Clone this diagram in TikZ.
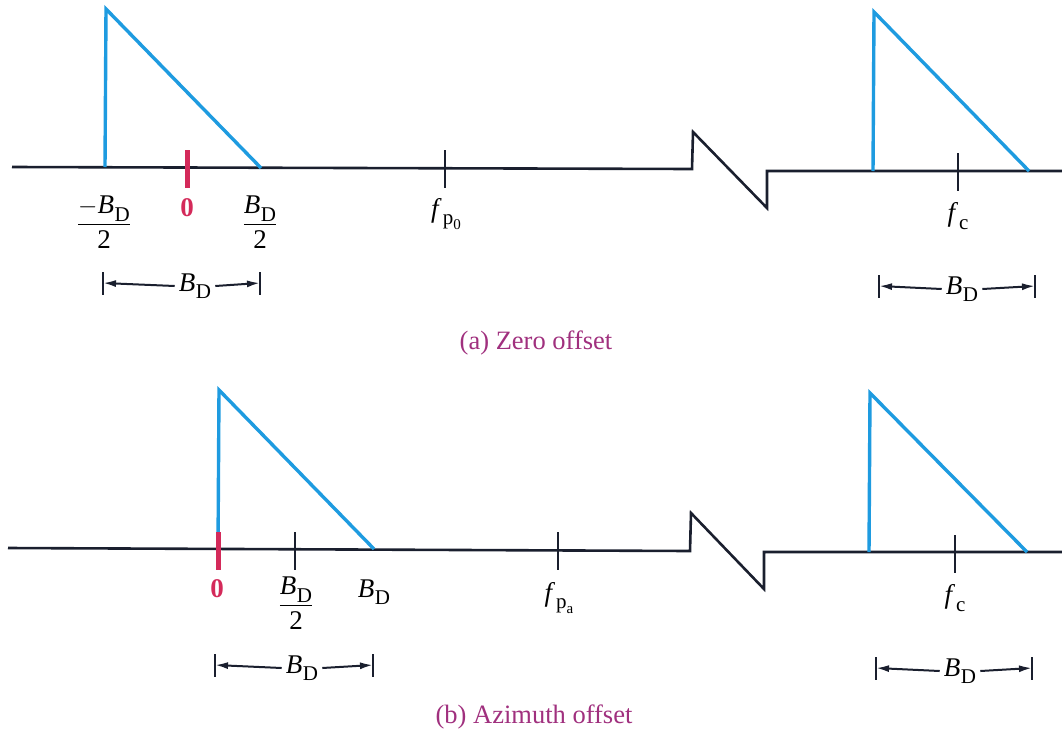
\documentclass[tikz,border=0pt]{standalone}
\usepackage{amsmath}
\usepackage{fontspec}
\setmainfont{Liberation Serif}
\usetikzlibrary{arrows.meta}
\definecolor{specblue}{HTML}{1E9BE0}
\definecolor{zeroRed}{HTML}{D42A5A}
\definecolor{capPurple}{HTML}{A0307E}
\definecolor{axisBlack}{HTML}{1A1F2E}
\newcommand{\mysub}[1]{\raisebox{-0.28em}{\fontsize{21}{24}\selectfont\upshape #1}}
\newcommand{\mysubsub}[1]{\raisebox{-0.22em}{\fontsize{15}{18}\selectfont\upshape #1}}
\newcommand{\BD}{\textit{B}\kern0.5pt\mysub{D}}
\newcommand{\halfBD}[1]{$\dfrac{\mbox{#1\BD}}{\mbox{2}}$}
\begin{document}
\begin{tikzpicture}[x=1pt,y=-1pt,
  axis/.style={draw=axisBlack,line width=2.6pt,line join=miter},
  spec/.style={draw=specblue,line width=3.4pt,line join=miter},
  tickmark/.style={draw=axisBlack,line width=2.2pt},
  zerotick/.style={draw=zeroRed,line width=5pt},
  lbl/.style={font=\fontsize{27}{30}\selectfont,inner sep=1pt},
  zerolbl/.style={font=\fontsize{27}{30}\selectfont\bfseries,text=zeroRed,inner sep=1pt},
  caption/.style={font=\fontsize{26.5}{30}\selectfont,text=capPurple},
  dimbar/.style={draw=axisBlack,line width=2.2pt},
  dimarrow/.style={draw=axisBlack,line width=2pt,-{Latex[length=13pt,width=7pt]}}]
\useasboundingbox (0,0) rectangle (1062,734);

% ---------------- (a) Zero offset ----------------
\coordinate (a0) at (12,167);
\coordinate (a1) at (692,169);
\coordinate (a2) at (693,132);
\coordinate (a3) at (767,208);
\coordinate (a4) at (767,171);
\coordinate (a5) at (1062,171);
\draw[axis] (a0) -- (a1) -- (a2) -- (a3) -- (a4) -- (a5);

\coordinate (t1b) at (105,167);
\coordinate (t1t) at (106,9);
\coordinate (t1r) at (261,168);
\draw[spec] (t1b) -- (t1t) -- (t1r);

\coordinate (t2b) at (873,171);
\coordinate (t2t) at (874,12);
\coordinate (t2r) at (1029,171);
\draw[spec] (t2b) -- (t2t) -- (t2r);

\draw[zerotick] (187,150) -- (187,188);
\draw[tickmark] (445,150) -- (445,188);
\draw[tickmark] (958,153) -- (958,191);

\node[lbl] (amBD) at (104,222) {\halfBD{$-$}};
\node[zerolbl] (azero) at (187,208) {0};
\node[lbl] (apBD) at (260,222) {\halfBD{}};
\node[lbl] (afp) at (446,214) {\textit{f}\kern1pt\mysub{p\mysubsub{0}}};
\node[lbl] (afc) at (958,216) {\textit{f}\kern1pt\mysub{c}};

\coordinate (ad1l) at (103,283);
\coordinate (ad1r) at (260,283);
\draw[dimbar] (103,272) -- (103,295);
\draw[dimbar] (260,272) -- (260,295);
\node[lbl,fill=white,inner xsep=4pt] (ad1) at (195,286) {\BD};
\draw[dimarrow] (ad1.west) -- (ad1l);
\draw[dimarrow] (ad1.east) -- (ad1r);

\coordinate (ad2l) at (879,286);
\coordinate (ad2r) at (1035,286);
\draw[dimbar] (879,275) -- (879,298);
\draw[dimbar] (1035,275) -- (1035,298);
\node[lbl,fill=white,inner xsep=4pt] (ad2) at (962,289) {\BD};
\draw[dimarrow] (ad2.west) -- (ad2l);
\draw[dimarrow] (ad2.east) -- (ad2r);

\node[caption] (capa) at (536,343) {(a) Zero offset};

% ---------------- (b) Azimuth offset ----------------
\coordinate (b0) at (8,548);
\coordinate (b1) at (690,551);
\coordinate (b2) at (691,513);
\coordinate (b3) at (764,589);
\coordinate (b4) at (764,552);
\coordinate (b5) at (1062,552);
\draw[axis] (b0) -- (b1) -- (b2) -- (b3) -- (b4) -- (b5);

\coordinate (t3b) at (218,549);
\coordinate (t3t) at (219,390);
\coordinate (t3r) at (374,549);
\draw[spec] (t3b) -- (t3t) -- (t3r);

\coordinate (t4b) at (869,552);
\coordinate (t4t) at (870,393);
\coordinate (t4r) at (1027,552);
\draw[spec] (t4b) -- (t4t) -- (t4r);

\draw[zerotick] (218,532) -- (218,570);
\draw[tickmark] (295,532) -- (295,570);
\draw[tickmark] (558,532) -- (558,570);
\draw[tickmark] (955,535) -- (955,573);

\node[zerolbl] (bzero) at (217,589) {0};
\node[lbl] (bhBD) at (296,603) {\halfBD{}};
\node[lbl] (bBD) at (374,592) {\BD};
\node[lbl] (bfp) at (559,598) {\textit{f}\kern1pt\mysub{p\mysubsub{a}}};
\node[lbl] (bfc) at (955,598) {\textit{f}\kern1pt\mysub{c}};

\coordinate (bd1l) at (215,665);
\coordinate (bd1r) at (373,665);
\draw[dimbar] (215,654) -- (215,677);
\draw[dimbar] (373,654) -- (373,677);
\node[lbl,fill=white,inner xsep=4pt] (bd1) at (302,668) {\BD};
\draw[dimarrow] (bd1.west) -- (bd1l);
\draw[dimarrow] (bd1.east) -- (bd1r);

\coordinate (bd2l) at (876,668);
\coordinate (bd2r) at (1032,668);
\draw[dimbar] (876,657) -- (876,680);
\draw[dimbar] (1032,657) -- (1032,680);
\node[lbl,fill=white,inner xsep=4pt] (bd2) at (960,671) {\BD};
\draw[dimarrow] (bd2.west) -- (bd2l);
\draw[dimarrow] (bd2.east) -- (bd2r);

\node[caption] (capb) at (534,717) {(b) Azimuth offset};
\end{tikzpicture}
\end{document}
